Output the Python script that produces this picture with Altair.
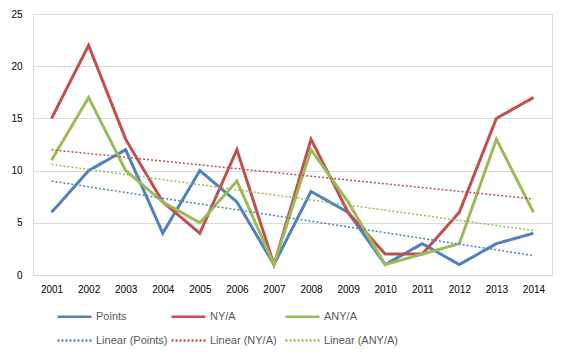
import altair as alt
import pandas as pd

years = list(range(2001, 2015))
points = [6, 10, 12, 4, 10, 7, 1, 8, 6, 1, 3, 1, 3, 4]
nya = [15, 22, 13, 7, 4, 12, 1, 13, 6, 2, 2, 6, 15, 17]
anya = [11, 17, 10, 7, 5, 9, 1, 12, 7, 1, 2, 3, 13, 6]

series_names = ["Points", "NY/A", "ANY/A"]
colors = ["#4f81bd", "#c0504d", "#9bbb59"]

rows = []
for name, vals in zip(series_names, [points, nya, anya]):
    for y, v in zip(years, vals):
        rows.append({"series": name, "year": y, "value": v})
df = pd.DataFrame(rows)

labels = series_names + [f"Linear ({s})" for s in series_names]
color_scale = alt.Scale(domain=labels, range=colors + colors)
dash_scale = alt.Scale(domain=labels, range=[[1, 0]] * 3 + [[2, 2]] * 3)

legend = alt.Legend(
    title=None, orient="none", legendX=23, legendY=284, direction="horizontal",
    columns=3, gridAlign="all", columnPadding=-6.5, rowPadding=-14,
    symbolType="stroke", symbolSize=1156, symbolStrokeWidth=2.5,
    labelFont="Liberation Sans", labelFontSize=11, labelColor="#595959", labelOffset=3,
)

x_enc = alt.X("year:Q", scale=alt.Scale(domain=[2000.5, 2014.5], nice=False, zero=False),
              axis=alt.Axis(values=years, format="d", title=None, grid=False, ticks=False,
                            domainColor="#d9d9d9", labelPadding=9))
y_enc = alt.Y("value:Q", scale=alt.Scale(domain=[0, 25], nice=False),
              axis=alt.Axis(values=[0, 5, 10, 15, 20, 25], title=None, ticks=False, domain=False,
                            gridColor="#d9d9d9", labelPadding=11))

base = alt.Chart(df)

def enc(layer):
    return layer.encode(
        x=x_enc, y=y_enc,
        color=alt.Color("label:N", scale=color_scale, legend=legend),
        strokeDash=alt.StrokeDash("label:N", scale=dash_scale, legend=legend),
        detail="series:N",
    )

main = enc(base.transform_calculate(label="datum.series").mark_line(strokeJoin="miter", strokeWidth=3))

trend = enc(base.transform_regression("year", "value", groupby=["series"]).transform_calculate(
    label="'Linear (' + datum.series + ')'"
).mark_line(strokeWidth=1.5))

chart = alt.layer(main, trend).properties(
    width=519, height=261,
    autosize=alt.AutoSizeParams(type="none"),
    padding={"left": 25, "top": 6, "right": 5, "bottom": 72},
).configure_view(stroke=None).configure_axis(
    labelFont="Liberation Sans", labelFontSize=11, labelColor="#595959"
).configure(background="white")

chart.save("out.html", embed_options={"renderer": "svg", "actions": False})
